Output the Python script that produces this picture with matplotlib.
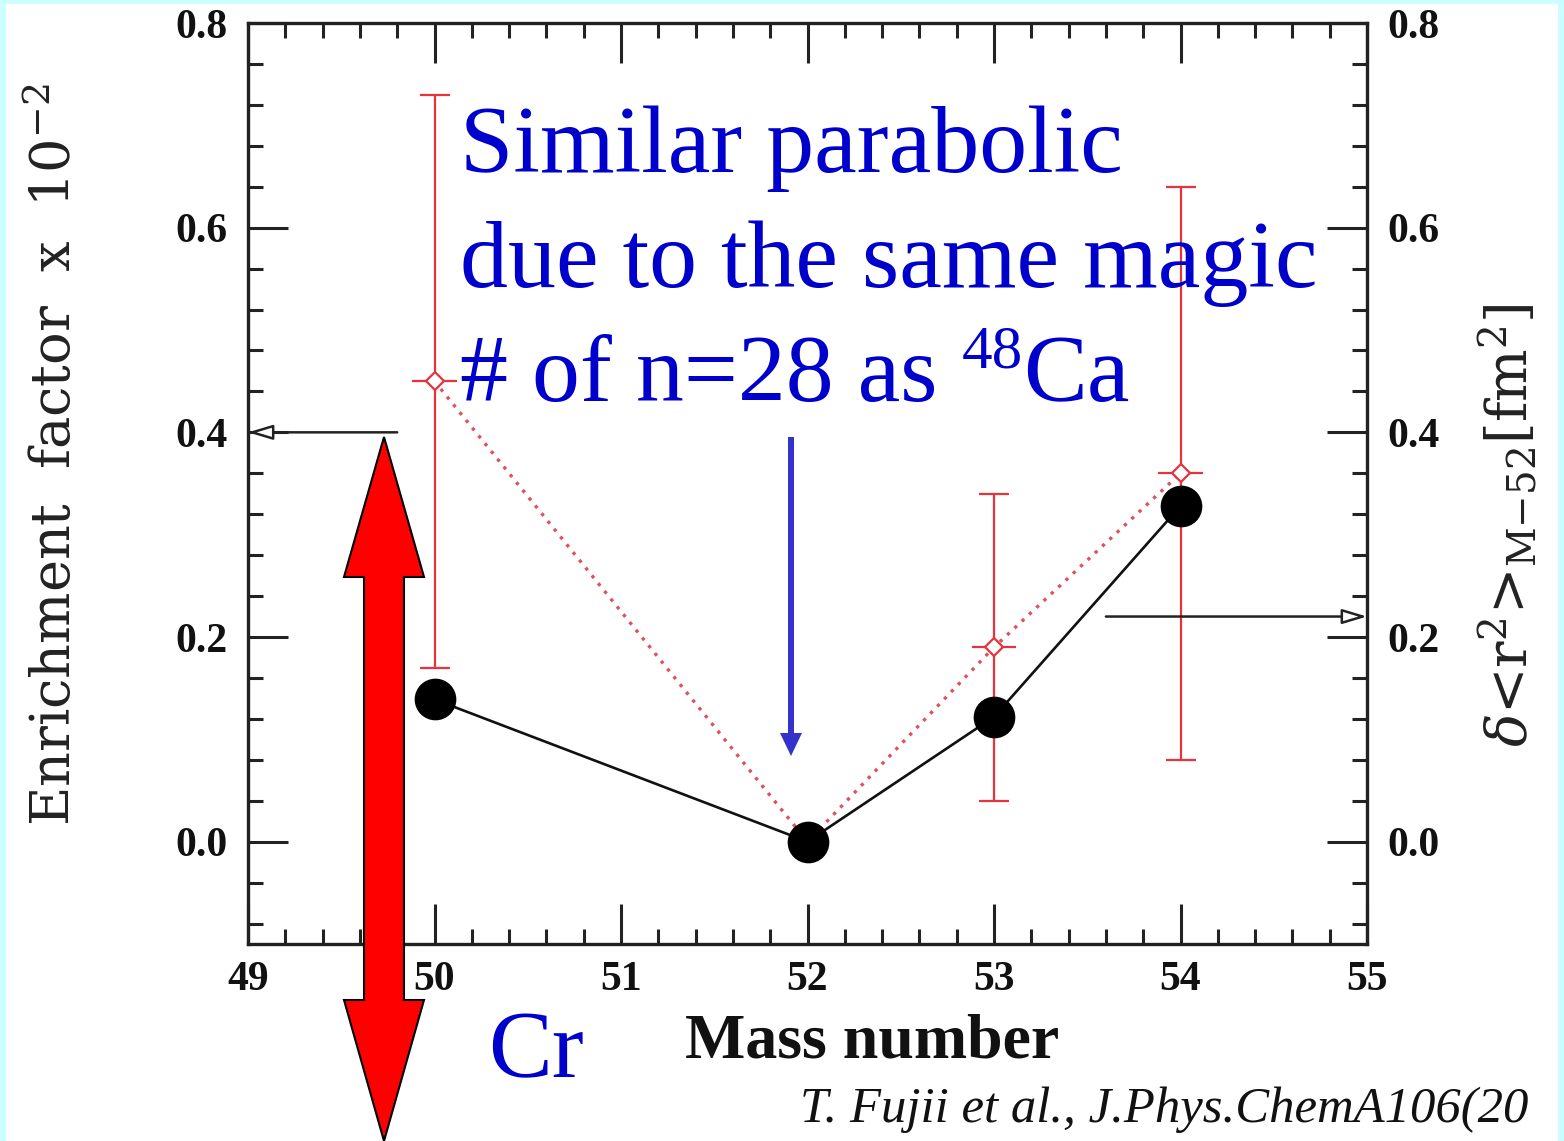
import matplotlib
matplotlib.use("Agg")
import matplotlib.pyplot as plt
import numpy as np
from matplotlib.patches import Polygon, Rectangle
from matplotlib.transforms import Affine2D
from matplotlib.ticker import MultipleLocator

plt.rcParams['font.family'] = ['Liberation Serif', 'DejaVu Serif']
plt.rcParams['mathtext.fontset'] = 'dejavuserif'

# Data
mass = [50, 52, 53, 54]
enrichment = [0.139, 0.0, 0.122, 0.328]          # black circles (left axis, x 10^-2)
delta_r2 = [0.45, 0.0, 0.19, 0.36]                # red diamonds (right axis, fm^2)
delta_err = [0.28, 0.0, 0.15, 0.28]
mass_err = [0.12, 0.0, 0.12, 0.12]

xticks = [49, 50, 51, 52, 53, 54, 55]
yticks = [0.0, 0.2, 0.4, 0.6, 0.8]

W, H = 1564, 1141
fig = plt.figure(figsize=(W / 100, H / 100), dpi=100)
fig.patch.set_facecolor('#ccffff')
# pixel coords of the picture (y pointing down)
px = Affine2D().scale(1 / W, -1 / H).translate(0, 1) + fig.transFigure
fig.patches.append(Rectangle((6, 4), 1552, 1141, transform=px, facecolor='white',
                             edgecolor='none', zorder=-10))

ax = fig.add_axes([248 / W, 1 - 944 / H, (1367 - 248) / W, (944 - 23) / H])
ax.set_facecolor('none')
ax.set_xlim(49, 55)
ax.set_ylim(-0.1, 0.8)
ax.set_xticks(xticks)
ax.set_yticks(yticks)
ax.xaxis.set_minor_locator(MultipleLocator(0.2))
ax.yaxis.set_minor_locator(MultipleLocator(0.04))
ax.set_xticklabels([str(t) for t in xticks], fontsize=30, fontweight='bold')
ax.set_yticklabels(['%.1f' % t for t in yticks], fontsize=30, fontweight='bold')
ax.tick_params(which='both', direction='in', top=True, right=True, labelright=True,
               width=2.2, color='#222222', labelcolor='#111111')
ax.tick_params(which='major', length=29)
ax.tick_params(which='minor', length=11)
ax.tick_params(axis='y', pad=15)
ax.tick_params(axis='x', pad=12)
for s in ax.spines.values():
    s.set_linewidth(2.4)
    s.set_color('#222222')

# red series with error bars
ax.errorbar(mass, delta_r2, xerr=mass_err, fmt='none', ecolor='#e8323c',
            elinewidth=1.6, capsize=0, zorder=2)
ax.errorbar(mass, delta_r2, yerr=delta_err, fmt='none', ecolor='#e8323c',
            elinewidth=1.6, capsize=11, capthick=1.6, zorder=2)
ax.plot(mass, delta_r2, linestyle=(0, (1, 2)), color='#e05060', lw=2.4, marker='D',
        markersize=9, mfc='white', mec='#e8323c', mew=1.6, zorder=3)

# black series
ax.plot(mass, enrichment, '-', color='#111111', lw=1.9, marker='o',
        markersize=29, mfc='black', mec='black', zorder=4)

# small axis pointer arrows
for tip, tail in [((49.0, 0.4), (49.8, 0.4)), ((55.0, 0.22), (53.6, 0.22))]:
    ax.annotate('', xy=tip, xytext=tail,
                arrowprops=dict(arrowstyle='-|>,head_length=1.5,head_width=0.45',
                                lw=1.8, color='#222222', fc='white',
                                shrinkA=0, shrinkB=0))

# axis labels
fig.text(55 / W, 1 - 455 / H, 'Enrichment  factor  x  10$^{-2}$', rotation=90,
         family='DejaVu Serif', fontsize=39, color='#222222', ha='center', va='center')
fig.text(1508 / W, 1 - 525 / H, r'$\delta$<r$^2$>$_{\mathrm{M{-}52}}$[fm$^2$]',
         rotation=90, family='DejaVu Serif', fontsize=40, color='#222222',
         ha='center', va='center')
fig.text(872 / W, 1 - 1057 / H, 'Mass number', fontsize=46, fontweight='bold',
         color='#111111', ha='center', va='baseline')

# blue annotation text
blue = '#0000cc'
fig.text(460 / W, 1 - 172 / H, 'Similar parabolic', fontsize=69, color=blue, va='baseline')
fig.text(460 / W, 1 - 287 / H, 'due to the same magic', fontsize=69, color=blue, va='baseline')
t3 = fig.text(460 / W, 1 - 401 / H, '# of n=28 as ', fontsize=69, color=blue,
              va='baseline')
r = fig.canvas.get_renderer()
x_end = 460 + t3.get_window_extent(r).width
sup = fig.text(x_end / W, 1 - 368 / H, '48', fontsize=44, color=blue, va='baseline')
x_end2 = x_end + sup.get_window_extent(r).width
fig.text(x_end2 / W, 1 - 401 / H, 'Ca', fontsize=69, color=blue, va='baseline')
fig.text(488 / W, 1 - 1077 / H, 'Cr', fontsize=69, color=blue, va='baseline')
# the reference shows the citation cut at the picture edge
fig.text(800 / W, 1 - 1122 / H, 'T. Fujii et al., J.Phys.ChemA106(20', fontsize=36.5,
         style='italic', color='#111111', va='baseline')

# blue down arrow
fig.patches.append(Polygon([(788, 437), (794, 437), (794, 733), (802, 733), (791, 756),
                            (780, 733), (788, 733)], closed=True, transform=px,
                           facecolor='#3333cc', edgecolor='none'))

# red double arrow
cx = 384
red_pts = [(cx, 437), (cx + 40, 577), (cx + 20, 577), (cx + 20, 1000), (cx + 40, 1000),
           (cx, 1141), (cx - 40, 1000), (cx - 20, 1000), (cx - 20, 577), (cx - 40, 577)]
fig.patches.append(Polygon(red_pts, closed=True, transform=px, facecolor='#ff0000',
                           edgecolor='black', lw=1.5, zorder=5))

fig.savefig('out.png', dpi=100, facecolor=fig.get_facecolor())
